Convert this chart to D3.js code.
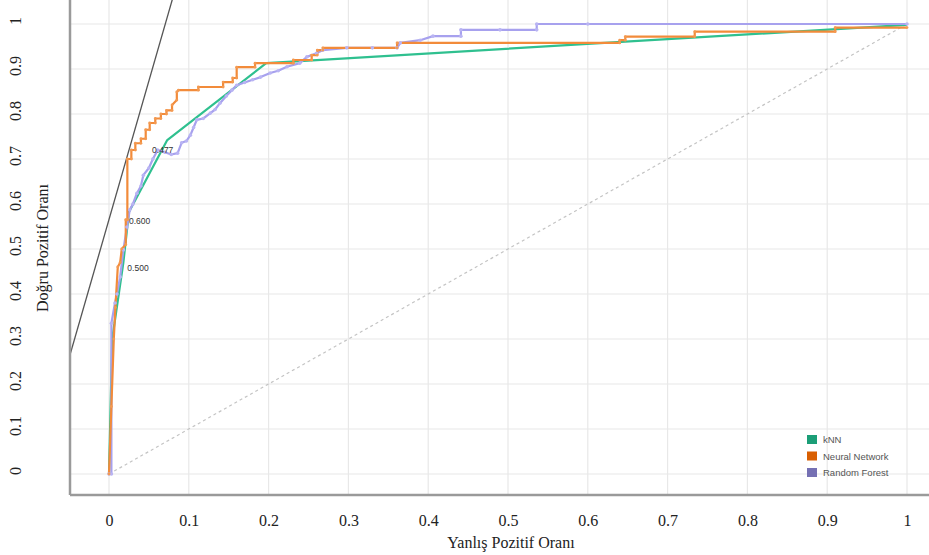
<!DOCTYPE html>
<html>
<head>
<meta charset="utf-8">
<script src="https://cdn.jsdelivr.net/npm/d3@7"></script>
<style>
  body { margin: 0; background: #fff; }
  svg { display: block; }
</style>
</head>
<body>
<svg width="929" height="555"></svg>
<script>
// ROC curves: [false positive rate, true positive rate]
const knn = [[0, 0], [0.004, 0.3], [0.018, 0.47], [0.025, 0.582], [0.073, 0.742], [0.197, 0.913], [1, 0.998]];

const neuralNet = [
  [0, 0], [0.003, 0.15], [0.006, 0.3], [0.008, 0.37], [0.011, 0.46], [0.014, 0.47], [0.016, 0.5],
  [0.021, 0.51], [0.021, 0.565], [0.023, 0.565], [0.023, 0.7], [0.028, 0.7], [0.028, 0.72],
  [0.033, 0.72], [0.033, 0.735], [0.04, 0.735], [0.04, 0.745], [0.046, 0.745], [0.046, 0.765],
  [0.051, 0.765], [0.051, 0.78], [0.058, 0.78], [0.058, 0.79], [0.065, 0.79], [0.065, 0.8],
  [0.072, 0.8], [0.072, 0.808], [0.079, 0.808], [0.079, 0.82], [0.085, 0.831], [0.085, 0.849],
  [0.087, 0.853], [0.112, 0.853], [0.112, 0.86], [0.143, 0.86], [0.143, 0.871], [0.155, 0.871],
  [0.155, 0.88], [0.16, 0.88], [0.16, 0.904], [0.183, 0.904], [0.183, 0.913], [0.231, 0.913],
  [0.231, 0.92], [0.254, 0.92], [0.254, 0.931], [0.261, 0.931], [0.261, 0.942], [0.268, 0.942],
  [0.268, 0.947], [0.361, 0.947], [0.361, 0.958], [0.64, 0.958], [0.64, 0.964], [0.647, 0.964],
  [0.647, 0.972], [0.734, 0.972], [0.734, 0.983], [0.91, 0.983], [0.91, 0.992], [1, 0.992]
];

const randomForest = [
  [0, 0], [0.003, 0.0], [0.003, 0.335], [0.0075, 0.38], [0.01, 0.4], [0.014, 0.438], [0.018, 0.498],
  [0.0225, 0.549], [0.026, 0.587], [0.03, 0.6], [0.035, 0.624], [0.04, 0.64], [0.043, 0.664],
  [0.05, 0.68], [0.055, 0.7], [0.061, 0.72], [0.07, 0.715], [0.078, 0.71], [0.086, 0.713],
  [0.091, 0.736], [0.097, 0.74], [0.102, 0.753], [0.106, 0.77], [0.11, 0.787], [0.118, 0.79],
  [0.127, 0.802], [0.133, 0.81], [0.139, 0.824], [0.147, 0.84], [0.154, 0.853], [0.16, 0.864],
  [0.17, 0.87], [0.18, 0.876], [0.19, 0.882], [0.202, 0.891], [0.212, 0.896], [0.223, 0.905],
  [0.239, 0.913], [0.248, 0.927], [0.26, 0.935], [0.268, 0.942], [0.298, 0.947], [0.33, 0.947],
  [0.361, 0.947], [0.365, 0.958], [0.39, 0.964], [0.406, 0.973], [0.441, 0.973], [0.441, 0.987],
  [0.49, 0.987], [0.536, 0.987], [0.536, 1], [0.6, 1], [1, 1]
];

const seriesNames = ['kNN', 'Neural Network', 'Random Forest'];
const legendColors = ['#1b9e77', '#d95f02', '#7570b3'];
const lineColors = ['#2fc08f', '#f28b3a', '#a7a1ee'];

// threshold labels next to the curves: [fpr, tpr, text]
const thresholdLabels = [[0.054, 0.713, '0.477'], [0.025, 0.556, '0.600'], [0.023, 0.451, '0.500']];

// tangent (iso-performance) line and chance diagonal
const tangentLine = [[-0.06, 0.196], [0.09, 1.12]];
const diagonal = [[0, 0], [1, 1]];

const tickValues = [0, 0.1, 0.2, 0.3, 0.4, 0.5, 0.6, 0.7, 0.8, 0.9, 1];
const tickLabels = ['0', '0.1', '0.2', '0.3', '0.4', '0.5', '0.6', '0.7', '0.8', '0.9', '1'];

const svg = d3.select('svg');

const plotLeft = 70, plotRight = 929, plotTop = 0, plotBottom = 495;

const x = d3.scaleLinear().domain([0, 1]).range([109, 907]);
const y = d3.scaleLinear().domain([0, 1]).range([474, 24]);

// clip for everything inside the frame
svg.append('defs').append('clipPath').attr('id', 'plot-clip')
  .append('rect')
  .attr('x', plotLeft).attr('y', plotTop)
  .attr('width', plotRight - plotLeft).attr('height', plotBottom - plotTop);

// grid lines
svg.append('g')
  .selectAll('line.vgrid')
  .data(tickValues)
  .enter()
  .append('line')
  .attr('x1', (d) => x(d)).attr('x2', (d) => x(d))
  .attr('y1', plotTop).attr('y2', plotBottom)
  .attr('stroke', '#e8e8e8').attr('stroke-width', 1.2);

svg.append('g')
  .selectAll('line.hgrid')
  .data(tickValues)
  .enter()
  .append('line')
  .attr('x1', plotLeft).attr('x2', plotRight)
  .attr('y1', (d) => y(d)).attr('y2', (d) => y(d))
  .attr('stroke', '#e8e8e8').attr('stroke-width', 1.2);

const plot = svg.append('g').attr('clip-path', 'url(#plot-clip)');

const line = d3.line().x((d) => x(d[0])).y((d) => y(d[1]));

// chance diagonal
plot.append('path')
  .attr('d', line(diagonal))
  .attr('fill', 'none')
  .attr('stroke', '#c4c4c4')
  .attr('stroke-width', 1.2)
  .attr('stroke-dasharray', '3,3');

// tangent line
plot.append('path')
  .attr('d', line(tangentLine))
  .attr('fill', 'none')
  .attr('stroke', '#555')
  .attr('stroke-width', 1.3);

// curves, drawn in this order: kNN, Random Forest, Neural Network
const curves = [knn, neuralNet, randomForest];
[0, 2, 1].forEach((i) => {
  plot.append('path')
    .attr('d', line(curves[i]))
    .attr('fill', 'none')
    .attr('stroke', lineColors[i])
    .attr('stroke-width', 2.2)
    .attr('stroke-linejoin', 'round');
});

// small point markers on the stepped curves
plot.append('g')
  .selectAll('circle')
  .data(randomForest)
  .enter()
  .append('circle')
  .attr('cx', (d) => x(d[0])).attr('cy', (d) => y(d[1]))
  .attr('r', 1.8)
  .attr('fill', '#b9b4f3');

plot.append('g')
  .selectAll('circle')
  .data(neuralNet)
  .enter()
  .append('circle')
  .attr('cx', (d) => x(d[0])).attr('cy', (d) => y(d[1]))
  .attr('r', 1.4)
  .attr('fill', '#f39a52');

// threshold labels
plot.append('g')
  .selectAll('text')
  .data(thresholdLabels)
  .enter()
  .append('text')
  .attr('x', (d) => x(d[0])).attr('y', (d) => y(d[1]))
  .attr('font-family', 'Liberation Sans, Arial, sans-serif')
  .attr('font-size', 8.5)
  .attr('fill', '#333')
  .text((d) => d[2]);

// frame
svg.append('line')
  .attr('x1', plotLeft).attr('x2', plotLeft)
  .attr('y1', plotTop).attr('y2', plotBottom)
  .attr('stroke', '#9a9a9a').attr('stroke-width', 2.5);
svg.append('line')
  .attr('x1', plotLeft).attr('x2', plotRight)
  .attr('y1', plotBottom).attr('y2', plotBottom)
  .attr('stroke', '#9a9a9a').attr('stroke-width', 2.5);

// x tick labels
const xAxis = d3.axisBottom(x)
  .tickValues(tickValues)
  .tickFormat((d, i) => tickLabels[i])
  .tickSize(0)
  .tickPadding(20);

svg.append('g')
  .attr('transform', `translate(0,${plotBottom})`)
  .call(xAxis)
  .call((g) => g.select('.domain').remove())
  .selectAll('text')
  .attr('font-family', 'Liberation Serif, Times New Roman, serif')
  .attr('font-size', 16)
  .attr('fill', '#222');

// y tick labels (rotated)
svg.append('g')
  .selectAll('text')
  .data(tickValues)
  .enter()
  .append('text')
  .attr('transform', (d) => `translate(21,${y(d) - 3}) rotate(-90)`)
  .attr('text-anchor', 'middle')
  .attr('font-family', 'Liberation Serif, Times New Roman, serif')
  .attr('font-size', 16)
  .attr('fill', '#222')
  .text((d, i) => tickLabels[i]);

// axis titles
svg.append('text')
  .attr('x', 511).attr('y', 548)
  .attr('text-anchor', 'middle')
  .attr('font-family', 'Liberation Serif, Times New Roman, serif')
  .attr('font-size', 16)
  .attr('fill', '#222')
  .text('Yanlış Pozitif Oranı');

svg.append('text')
  .attr('transform', 'translate(48,248) rotate(-90)')
  .attr('text-anchor', 'middle')
  .attr('font-family', 'Liberation Serif, Times New Roman, serif')
  .attr('font-size', 16)
  .attr('fill', '#222')
  .text('Doğru Pozitif Oranı');

// legend
const legend = svg.append('g').attr('transform', 'translate(807,435)');
const rows = legend.selectAll('g')
  .data(seriesNames)
  .enter()
  .append('g')
  .attr('transform', (d, i) => `translate(0,${i * 16.5})`);

rows.append('rect')
  .attr('width', 10).attr('height', 9)
  .attr('fill', (d, i) => legendColors[i]);

rows.append('text')
  .attr('x', 16).attr('y', 8)
  .attr('font-family', 'Liberation Sans, Arial, sans-serif')
  .attr('font-size', 9.5)
  .attr('fill', '#555')
  .text((d) => d);
</script>
</body>
</html>
